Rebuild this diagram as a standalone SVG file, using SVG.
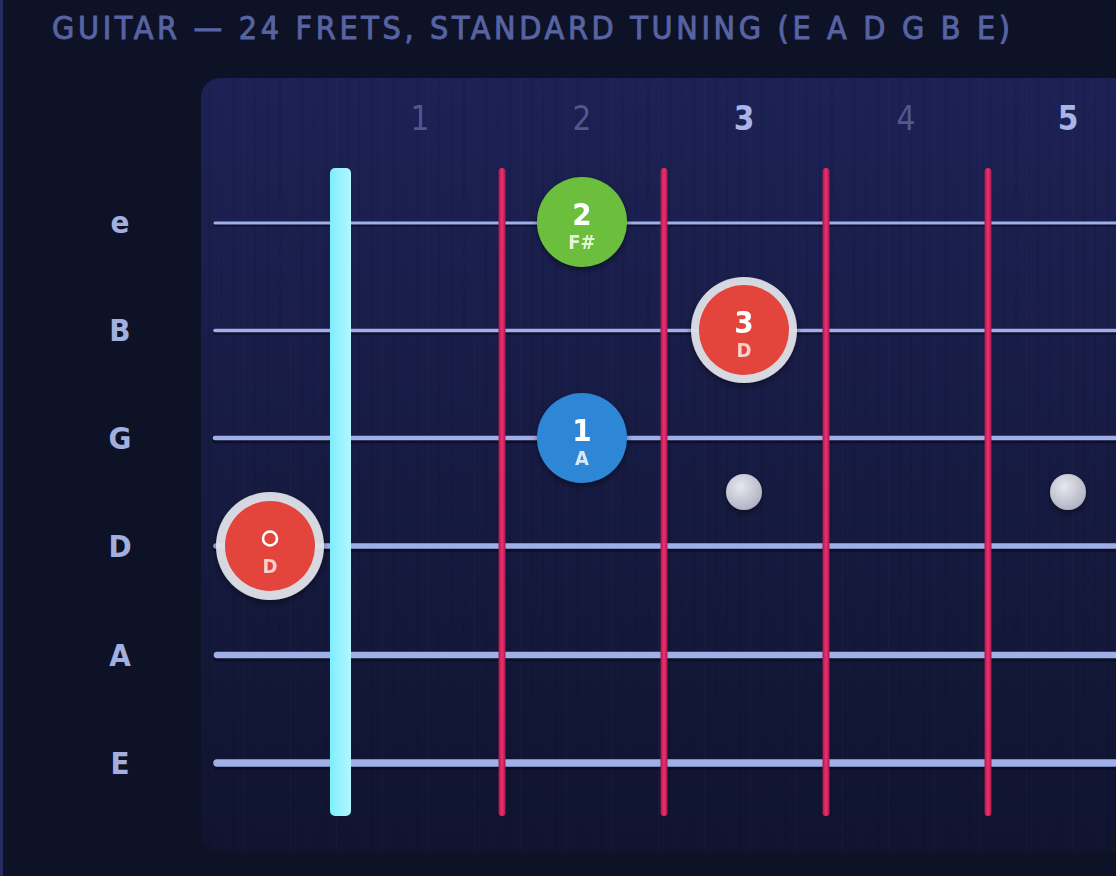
<svg xmlns="http://www.w3.org/2000/svg" width="1116" height="876" viewBox="0 0 1116 876">
  <defs>
    <linearGradient id="panelGrad" x1="0" y1="0" x2="0" y2="1">
      <stop offset="0" stop-color="#1d2256"/>
      <stop offset="1" stop-color="#10142f"/>
    </linearGradient>
    <linearGradient id="nutGrad" x1="0" y1="0" x2="1" y2="0">
      <stop offset="0" stop-color="#7eeefc"/>
      <stop offset="1" stop-color="#b2f7ff"/>
    </linearGradient>
    <linearGradient id="fretGrad" x1="0" y1="0" x2="1" y2="0">
      <stop offset="0" stop-color="#a8164a"/>
      <stop offset="0.5" stop-color="#ee3272"/>
      <stop offset="1" stop-color="#a8164a"/>
    </linearGradient>
    <radialGradient id="inlayGrad" cx="0.4" cy="0.35" r="0.7">
      <stop offset="0" stop-color="#e6e7ee"/>
      <stop offset="1" stop-color="#aeb0c0"/>
    </radialGradient>
    <pattern id="grain" x="0" y="0" width="46" height="10" patternUnits="userSpaceOnUse">
      <rect x="3" y="0" width="2" height="10" fill="#000" opacity="0.08"/>
      <rect x="14" y="0" width="1" height="10" fill="#fff" opacity="0.02"/>
      <rect x="24" y="0" width="3" height="10" fill="#000" opacity="0.06"/>
      <rect x="37" y="0" width="1" height="10" fill="#000" opacity="0.1"/>
    </pattern>
    <filter id="shadow" x="-30%" y="-30%" width="160%" height="160%">
      <feDropShadow dx="0" dy="3" stdDeviation="3" flood-color="#000" flood-opacity="0.45"/>
    </filter>
    <style>
      .title { font-family: "DejaVu Sans", "Liberation Sans", sans-serif; font-stretch: condensed; font-size: 32px; font-weight: 400; fill: #5763a3; stroke: #5763a3; stroke-width: 0.9px; }
      .fretnum { font-family: "DejaVu Sans", "Liberation Sans", sans-serif; font-stretch: condensed; font-size: 33px; text-anchor: middle; fill: #4f5892; }
      .fretnum.mark { font-weight: 700; fill: #a9b5e6; }
      .slabel { font-family: "DejaVu Sans", "Liberation Sans", sans-serif; font-stretch: condensed; font-size: 31px; font-weight: 700; text-anchor: middle; fill: #a3b0df; }
      .string { stroke: #9fb0e8; stroke-linecap: round; fill: none; }
      .sshadow { stroke: #05071a; stroke-opacity: 0.55; stroke-linecap: round; fill: none; }
      .fret { fill: url(#fretGrad); }
      .finger { font-family: "DejaVu Sans", "Liberation Sans", sans-serif; font-stretch: condensed; font-weight: 700; text-anchor: middle; }
      .fnum { font-size: 31px; fill: #ffffff; }
      .fnote { font-family: "DejaVu Sans", "Liberation Sans", sans-serif; font-stretch: condensed; font-size: 20px; font-weight: 700; text-anchor: middle; }
      .ring { fill: #e4e5ec; fill-opacity: 0.92; }
    </style>
  </defs>

  <!-- background -->
  <rect x="0" y="0" width="1116" height="876" fill="#0e1226"/>
  <rect x="0" y="0" width="3" height="876" fill="#262c62"/>

  <text class="title" x="52" y="39" textLength="958" lengthAdjust="spacing">GUITAR — 24 FRETS, STANDARD TUNING (E A D G B E)</text>

  <!-- fretboard panel -->
  <g id="fretboard">
    <rect x="201" y="78" width="960" height="774" rx="20" fill="url(#panelGrad)"/>
    <rect x="201" y="78" width="960" height="774" rx="20" fill="url(#grain)"/>
  </g>

  <!-- fret numbers -->
  <g id="fret-numbers">
    <text class="fretnum" x="420" y="130">1</text>
    <text class="fretnum" x="582" y="130">2</text>
    <text class="fretnum mark" x="744" y="130">3</text>
    <text class="fretnum" x="906" y="130">4</text>
    <text class="fretnum mark" x="1068" y="130">5</text>
  </g>

  <!-- string labels -->
  <g id="string-labels">
    <text class="slabel" x="120" y="233">e</text>
    <text class="slabel" x="120" y="341">B</text>
    <text class="slabel" x="120" y="449">G</text>
    <text class="slabel" x="120" y="557">D</text>
    <text class="slabel" x="120" y="666">A</text>
    <text class="slabel" x="120" y="774">E</text>
  </g>

  <!-- inlays -->
  <g id="inlays" filter="url(#shadow)">
    <circle cx="744" cy="492" r="18" fill="url(#inlayGrad)"/>
    <circle cx="1068" cy="492" r="18" fill="url(#inlayGrad)"/>
  </g>

  <!-- strings -->
  <g id="strings">
    <line class="sshadow" x1="215" y1="225" x2="1120" y2="225" stroke-width="3"/>
    <line class="string" x1="215" y1="223" x2="1120" y2="223" stroke-width="3"/>
    <line class="sshadow" x1="215" y1="333" x2="1120" y2="333" stroke-width="3.5"/>
    <line class="string" x1="215" y1="330.5" x2="1120" y2="330.5" stroke-width="3.5"/>
    <line class="sshadow" x1="215" y1="441" x2="1120" y2="441" stroke-width="4.5"/>
    <line class="string" x1="215" y1="438" x2="1120" y2="438" stroke-width="4.5"/>
    <line class="sshadow" x1="216" y1="549" x2="1120" y2="549" stroke-width="5.5"/>
    <line class="string" x1="216" y1="546" x2="1120" y2="546" stroke-width="5.5"/>
    <line class="sshadow" x1="217" y1="658" x2="1120" y2="658" stroke-width="6.5"/>
    <line class="string" x1="217" y1="655" x2="1120" y2="655" stroke-width="6.5"/>
    <line class="sshadow" x1="217" y1="766" x2="1120" y2="766" stroke-width="7.5"/>
    <line class="string" x1="217" y1="763" x2="1120" y2="763" stroke-width="7.5"/>
  </g>

  <!-- nut and frets -->
  <g id="frets">
    <rect id="nut" x="330" y="168" width="21" height="648" rx="5" fill="url(#nutGrad)"/>
    <rect class="fret" x="498.5" y="168" width="7" height="648" rx="3.5"/>
    <rect class="fret" x="660.5" y="168" width="7" height="648" rx="3.5"/>
    <rect class="fret" x="822.5" y="168" width="7" height="648" rx="3.5"/>
    <rect class="fret" x="984.5" y="168" width="7" height="648" rx="3.5"/>
  </g>

  <!-- finger markers -->
  <g id="open-D" filter="url(#shadow)">
    <circle class="ring" cx="270" cy="546" r="54"/>
    <circle cx="270" cy="546" r="45" fill="#e3443c"/>
    <circle cx="270" cy="538.5" r="7" fill="none" stroke="#ffffff" stroke-width="2.6"/>
    <text class="fnote" x="270" y="573" fill="#f8d2cc">D</text>
  </g>

  <g id="finger-2-e" filter="url(#shadow)">
    <circle cx="582" cy="222" r="45" fill="#6cbf3e"/>
    <text class="finger fnum" x="582" y="225">2</text>
    <text class="fnote" x="582" y="249" fill="#e4f5d6">F#</text>
  </g>

  <g id="finger-3-B" filter="url(#shadow)">
    <circle class="ring" cx="744" cy="330" r="53"/>
    <circle cx="744" cy="330" r="45" fill="#e3443c"/>
    <text class="finger fnum" x="744" y="333">3</text>
    <text class="fnote" x="744" y="357" fill="#f8d2cc">D</text>
  </g>

  <g id="finger-1-G" filter="url(#shadow)">
    <circle cx="582" cy="438" r="45" fill="#2f86d6"/>
    <text class="finger fnum" x="582" y="441">1</text>
    <text class="fnote" x="582" y="465" fill="#d6e8fa">A</text>
  </g>
</svg>
